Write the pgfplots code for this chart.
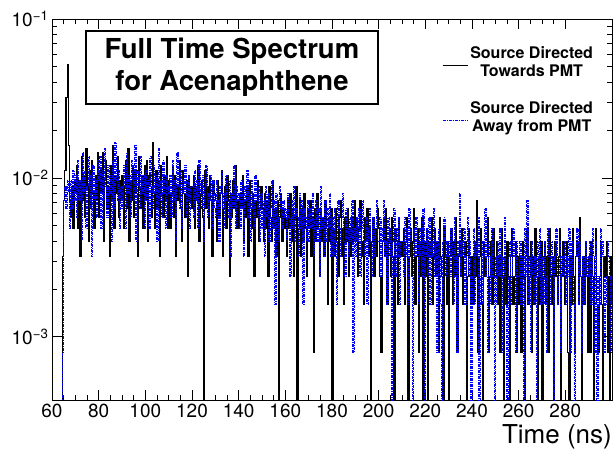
\documentclass[border=0pt]{standalone}
\usepackage{fontspec}
\setmainfont{TeX Gyre Heros}
\usepackage{pgfplots}
\usepackage{pgfplotstable}
\pgfplotsset{compat=1.18}

% time spectrum, 0.5 ns bins; 0.0001 = empty bin (below the axis)
\pgfplotstableread{
t black blue
60 0.0001 0.0001
60.5 0.0001 0.0001
61 0.0001 0.0001
61.5 0.0001 0.0001
62 0.0001 0.0001
62.5 0.0001 0.0001
63 0.0001 0.0001
63.5 0.0001 0.0001
64 0.0001 0.0001
64.5 0.0032 0.0008
65 0.0072 0.0072
65.5 0.0112 0.0088
66 0.0320 0.0064
66.5 0.0520 0.0096
67 0.0160 0.0080
67.5 0.0072 0.0048
68 0.0056 0.0096
68.5 0.0088 0.0064
69 0.0048 0.0112
69.5 0.0096 0.0072
70 0.0080 0.0104
70.5 0.0120 0.0056
71 0.0048 0.0128
71.5 0.0096 0.0072
72 0.0032 0.0096
72.5 0.0136 0.0040
73 0.0072 0.0144
73.5 0.0104 0.0080
74 0.0056 0.0112
74.5 0.0152 0.0048
75 0.0088 0.0088
75.5 0.0040 0.0136
76 0.0112 0.0064
76.5 0.0064 0.0104
77 0.0128 0.0032
77.5 0.0080 0.0120
78 0.0048 0.0072
78.5 0.0104 0.0096
79 0.0072 0.0056
79.5 0.0144 0.0128
80 0.0056 0.0096
80.5 0.0112 0.0136
81 0.0080 0.0048
81.5 0.0144 0.0112
82 0.0040 0.0072
82.5 0.0096 0.0152
83 0.0128 0.0088
83.5 0.0064 0.0056
84 0.0088 0.0120
84.5 0.0032 0.0080
85 0.0120 0.0104
85.5 0.0072 0.0040
86 0.0160 0.0128
86.5 0.0048 0.0064
87 0.0104 0.0168
87.5 0.0080 0.0096
88 0.0136 0.0072
88.5 0.0056 0.0112
89 0.0096 0.0048
89.5 0.0072 0.0088
90 0.0104 0.0064
90.5 0.0048 0.0120
91 0.0088 0.0088
91.5 0.0128 0.0048
92 0.0064 0.0144
92.5 0.0152 0.0080
93 0.0040 0.0104
93.5 0.0096 0.0056
94 0.0072 0.0128
94.5 0.0120 0.0096
95 0.0056 0.0072
95.5 0.0112 0.0160
96 0.0080 0.0040
96.5 0.0032 0.0112
97 0.0136 0.0088
97.5 0.0088 0.0064
98 0.0064 0.0136
98.5 0.0104 0.0080
99 0.0048 0.0104
99.5 0.0120 0.0048
100 0.0072 0.0112
100.5 0.0128 0.0072
101 0.0040 0.0096
101.5 0.0104 0.0048
102 0.0088 0.0136
102.5 0.0056 0.0088
103 0.0168 0.0064
103.5 0.0080 0.0120
104 0.0048 0.0080
104.5 0.0112 0.0104
105 0.0064 0.0040
105.5 0.0096 0.0152
106 0.0032 0.0072
106.5 0.0120 0.0096
107 0.0080 0.0056
107.5 0.0056 0.0128
108 0.0104 0.0080
108.5 0.0072 0.0048
109 0.0136 0.0104
109.5 0.0048 0.0088
110 0.0096 0.0080
110.5 0.0048 0.0104
111 0.0080 0.0056
111.5 0.0120 0.0128
112 0.0056 0.0072
112.5 0.0104 0.0096
113 0.0032 0.0040
113.5 0.0088 0.0144
114 0.0072 0.0088
114.5 0.0128 0.0064
115 0.0064 0.0112
115.5 0.0040 0.0048
116 0.0112 0.0096
116.5 0.0080 0.0080
117 0.0056 0.0120
117.5 0.0096 0.0056
118 0.0024 0.0072
118.5 0.0104 0.0104
119 0.0072 0.0048
119.5 0.0088 0.0088
120 0.0064 0.0088
120.5 0.0104 0.0056
121 0.0048 0.0112
121.5 0.0088 0.0072
122 0.0072 0.0096
122.5 0.0120 0.0048
123 0.0040 0.0128
123.5 0.0080 0.0080
124 0.0096 0.0064
124.5 0.0056 0.0104
125 0.0001 0.0040
125.5 0.0112 0.0088
126 0.0064 0.0120
126.5 0.0088 0.0056
127 0.0048 0.0080
127.5 0.0104 0.0072
128 0.0072 0.0104
128.5 0.0032 0.0048
129 0.0096 0.0096
129.5 0.0080 0.0064
130 0.0072 0.0056
130.5 0.0040 0.0096
131 0.0096 0.0072
131.5 0.0056 0.0040
132 0.0080 0.0088
132.5 0.0112 0.0112
133 0.0032 0.0064
133.5 0.0064 0.0080
134 0.0088 0.0048
134.5 0.0048 0.0104
135 0.0104 0.0072
135.5 0.0072 0.0056
136 0.0024 0.0096
136.5 0.0080 0.0032
137 0.0056 0.0080
137.5 0.0096 0.0064
138 0.0064 0.0120
138.5 0.0120 0.0048
139 0.0048 0.0088
139.5 0.0072 0.0072
140 0.0048 0.0080
140.5 0.0080 0.0048
141 0.0064 0.0096
141.5 0.0104 0.0064
142 0.0040 0.0032
142.5 0.0072 0.0088
143 0.0056 0.0072
143.5 0.0088 0.0112
144 0.0032 0.0056
144.5 0.0096 0.0080
145 0.0064 0.0040
145.5 0.0048 0.0096
146 0.0080 0.0064
146.5 0.0024 0.0048
147 0.0072 0.0104
147.5 0.0056 0.0072
148 0.0096 0.0056
148.5 0.0040 0.0088
149 0.0064 0.0040
149.5 0.0088 0.0080
150 0.0064 0.0048
150.5 0.0040 0.0072
151 0.0080 0.0032
151.5 0.0048 0.0088
152 0.0072 0.0056
152.5 0.0024 0.0080
153 0.0088 0.0040
153.5 0.0056 0.0064
154 0.0040 0.0096
154.5 0.0096 0.0048
155 0.0048 0.0072
155.5 0.0064 0.0016
156 0.0032 0.0080
156.5 0.0072 0.0056
157 0.0001 0.0040
157.5 0.0056 0.0088
158 0.0080 0.0064
158.5 0.0040 0.0048
159 0.0064 0.0072
159.5 0.0048 0.0056
160 0.0056 0.0064
160.5 0.0032 0.0040
161 0.0072 0.0080
161.5 0.0048 0.0056
162 0.0080 0.0024
162.5 0.0040 0.0072
163 0.0064 0.0048
163.5 0.0024 0.0088
164 0.0056 0.0040
164.5 0.0088 0.0064
165 0.0001 0.0056
165.5 0.0048 0.0032
166 0.0072 0.0080
166.5 0.0032 0.0048
167 0.0064 0.0072
167.5 0.0040 0.0016
168 0.0080 0.0064
168.5 0.0048 0.0056
169 0.0024 0.0040
169.5 0.0064 0.0072
170 0.0048 0.0040
170.5 0.0072 0.0064
171 0.0032 0.0048
171.5 0.0056 0.0080
172 0.0008 0.0032
172.5 0.0064 0.0056
173 0.0040 0.0072
173.5 0.0080 0.0040
174 0.0048 0.0064
174.5 0.0024 0.0024
175 0.0064 0.0088
175.5 0.0040 0.0048
176 0.0056 0.0056
176.5 0.0032 0.0032
177 0.0072 0.0072
177.5 0.0048 0.0040
178 0.0016 0.0064
178.5 0.0056 0.0048
179 0.0040 0.0080
179.5 0.0064 0.0032
180 0.0001 0.0056
180.5 0.0048 0.0032
181 0.0032 0.0064
181.5 0.0064 0.0040
182 0.0040 0.0016
182.5 0.0024 0.0072
183 0.0056 0.0048
183.5 0.0072 0.0032
184 0.0032 0.0056
184.5 0.0048 0.0080
185 0.0016 0.0040
185.5 0.0056 0.0024
186 0.0040 0.0064
186.5 0.0064 0.0048
187 0.0024 0.0032
187.5 0.0048 0.0056
188 0.0032 0.0040
188.5 0.0056 0.0072
189 0.0040 0.0008
189.5 0.0072 0.0048
190 0.0040 0.0032
190.5 0.0056 0.0056
191 0.0024 0.0040
191.5 0.0048 0.0064
192 0.0072 0.0024
192.5 0.0032 0.0048
193 0.0040 0.0072
193.5 0.0016 0.0040
194 0.0056 0.0032
194.5 0.0040 0.0056
195 0.0064 0.0016
195.5 0.0032 0.0048
196 0.0048 0.0064
196.5 0.0001 0.0040
197 0.0040 0.0024
197.5 0.0056 0.0056
198 0.0024 0.0032
198.5 0.0048 0.0048
199 0.0032 0.0072
199.5 0.0064 0.0040
200 0.0048 0.0040
200.5 0.0024 0.0056
201 0.0008 0.0024
201.5 0.0040 0.0048
202 0.0056 0.0072
202.5 0.0032 0.0032
203 0.0064 0.0040
203.5 0.0016 0.0016
204 0.0040 0.0056
204.5 0.0048 0.0032
205 0.0024 0.0048
205.5 0.0056 0.0001
206 0.0032 0.0040
206.5 0.0001 0.0064
207 0.0048 0.0024
207.5 0.0040 0.0048
208 0.0016 0.0032
208.5 0.0056 0.0056
209 0.0032 0.0016
209.5 0.0040 0.0040
210 0.0032 0.0040
210.5 0.0048 0.0024
211 0.0016 0.0056
211.5 0.0040 0.0032
212 0.0056 0.0048
212.5 0.0001 0.0016
213 0.0032 0.0064
213.5 0.0048 0.0040
214 0.0024 0.0024
214.5 0.0040 0.0001
215 0.0064 0.0048
215.5 0.0016 0.0032
216 0.0032 0.0056
216.5 0.0048 0.0040
217 0.0008 0.0016
217.5 0.0040 0.0048
218 0.0024 0.0032
218.5 0.0056 0.0024
219 0.0001 0.0064
219.5 0.0040 0.0001
220 0.0024 0.0032
220.5 0.0048 0.0048
221 0.0001 0.0024
221.5 0.0040 0.0056
222 0.0032 0.0016
222.5 0.0056 0.0040
223 0.0016 0.0032
223.5 0.0032 0.0064
224 0.0048 0.0024
224.5 0.0024 0.0040
225 0.0040 0.0008
225.5 0.0008 0.0048
226 0.0056 0.0032
226.5 0.0032 0.0016
227 0.0024 0.0001
227.5 0.0001 0.0040
228 0.0048 0.0056
228.5 0.0032 0.0024
229 0.0016 0.0040
229.5 0.0040 0.0032
230 0.0001 0.0040
230.5 0.0032 0.0024
231 0.0048 0.0048
231.5 0.0016 0.0032
232 0.0040 0.0016
232.5 0.0024 0.0056
233 0.0056 0.0032
233.5 0.0008 0.0008
234 0.0032 0.0040
234.5 0.0040 0.0080
235 0.0024 0.0024
235.5 0.0048 0.0040
236 0.0016 0.0032
236.5 0.0032 0.0048
237 0.0040 0.0016
237.5 0.0001 0.0032
238 0.0024 0.0056
238.5 0.0048 0.0024
239 0.0032 0.0040
239.5 0.0016 0.0001
240 0.0032 0.0024
240.5 0.0016 0.0048
241 0.0040 0.0016
241.5 0.0024 0.0040
242 0.0072 0.0032
242.5 0.0008 0.0056
243 0.0032 0.0001
243.5 0.0048 0.0024
244 0.0016 0.0040
244.5 0.0001 0.0016
245 0.0040 0.0032
245.5 0.0024 0.0064
246 0.0032 0.0024
246.5 0.0056 0.0008
247 0.0008 0.0040
247.5 0.0024 0.0032
248 0.0040 0.0016
248.5 0.0016 0.0048
249 0.0048 0.0024
249.5 0.0024 0.0001
250 0.0024 0.0032
250.5 0.0040 0.0016
251 0.0016 0.0040
251.5 0.0032 0.0024
252 0.0008 0.0048
252.5 0.0048 0.0008
253 0.0024 0.0032
253.5 0.0001 0.0024
254 0.0032 0.0056
254.5 0.0016 0.0016
255 0.0040 0.0001
255.5 0.0024 0.0032
256 0.0001 0.0040
256.5 0.0032 0.0016
257 0.0048 0.0024
257.5 0.0016 0.0048
258 0.0024 0.0032
258.5 0.0040 0.0008
259 0.0008 0.0040
259.5 0.0032 0.0024
260 0.0016 0.0024
260.5 0.0032 0.0040
261 0.0008 0.0016
261.5 0.0040 0.0032
262 0.0024 0.0001
262.5 0.0001 0.0048
263 0.0032 0.0024
263.5 0.0048 0.0072
264 0.0016 0.0016
264.5 0.0024 0.0032
265 0.0040 0.0008
265.5 0.0008 0.0040
266 0.0032 0.0024
266.5 0.0016 0.0016
267 0.0048 0.0032
267.5 0.0024 0.0001
268 0.0001 0.0040
268.5 0.0032 0.0024
269 0.0016 0.0048
269.5 0.0040 0.0016
270 0.0001 0.0032
270.5 0.0024 0.0016
271 0.0040 0.0040
271.5 0.0016 0.0024
272 0.0032 0.0008
272.5 0.0008 0.0048
273 0.0048 0.0032
273.5 0.0024 0.0016
274 0.0016 0.0040
274.5 0.0032 0.0024
275 0.0001 0.0001
275.5 0.0040 0.0032
276 0.0024 0.0048
276.5 0.0016 0.0016
277 0.0032 0.0024
277.5 0.0048 0.0040
278 0.0001 0.0008
278.5 0.0024 0.0032
279 0.0040 0.0024
279.5 0.0016 0.0040
280 0.0024 0.0016
280.5 0.0040 0.0032
281 0.0008 0.0024
281.5 0.0001 0.0048
282 0.0032 0.0008
282.5 0.0016 0.0040
283 0.0048 0.0024
283.5 0.0024 0.0016
284 0.0008 0.0001
284.5 0.0032 0.0032
285 0.0040 0.0048
285.5 0.0016 0.0016
286 0.0056 0.0040
286.5 0.0024 0.0024
287 0.0001 0.0008
287.5 0.0032 0.0032
288 0.0016 0.0016
288.5 0.0040 0.0040
289 0.0024 0.0024
289.5 0.0008 0.0032
290 0.0032 0.0024
290.5 0.0008 0.0040
291 0.0040 0.0016
291.5 0.0024 0.0048
292 0.0001 0.0032
292.5 0.0032 0.0008
293 0.0048 0.0040
293.5 0.0016 0.0001
294 0.0008 0.0024
294.5 0.0024 0.0016
295 0.0040 0.0048
295.5 0.0016 0.0032
296 0.0001 0.0040
296.5 0.0032 0.0008
297 0.0024 0.0024
297.5 0.0040 0.0016
298 0.0008 0.0040
298.5 0.0024 0.0032
299 0.0001 0.0024
299.5 0.0032 0.0008
300 0.0016 0.0024
}\spectrum

\begin{document}
\begin{tikzpicture}
\useasboundingbox (-52pt,-59pt) rectangle (562pt,400pt);
\begin{axis}[
  at={(0pt,0pt)}, anchor=south west,
  scale only axis,
  width=560pt, height=381pt,
  xmin=60, xmax=300,
  ymode=log, ymin=4e-4, ymax=0.1,
  xtick={60,80,...,280},
  minor x tick num=3,
  ytick={0.001,0.01,0.1},
  yticklabels={10\textsuperscript{−3},10\textsuperscript{−2},10\textsuperscript{−1}},
  tick align=inside,
  major tick length=10pt,
  minor tick length=5pt,
  axis line style={line width=0.9pt},
  every tick/.style={black, line width=0.7pt},
  tick label style={font=\fontsize{19}{22}\selectfont},
  /pgf/number format/assume math mode=true,
  /pgf/number format/1000 sep={},
  xlabel={Time (ns)},
  xlabel style={at={(axis description cs:1,0)}, anchor=north east,
    xshift=0pt, yshift=-24pt, inner sep=0pt, font=\fontsize{26}{30}\selectfont},
  legend style={draw=none, fill=none, at={(axis description cs:0.970,0.935)},
    anchor=north east, row sep=27pt, inner sep=0pt,
    font=\fontsize{16}{18}\selectfont\bfseries,
    nodes={inner sep=2pt}},
  legend cell align=center,
  legend image code/.code={\draw[#1] (0pt,-8pt) -- (25pt,-8pt);},
]
\addplot[const plot, black, line width=1.1pt] table[x=t, y=black] {\spectrum};
\addlegendentry{\begin{tabular}[c]{@{}c@{}}Source Directed\\Towards PMT\end{tabular}}
\addplot[const plot, blue, line width=1.1pt,
  dash pattern=on 3pt off 1pt on 1pt off 1pt] table[x=t, y=blue] {\spectrum};
\addlegendentry{\begin{tabular}[c]{@{}c@{}}Source Directed\\Away from PMT\end{tabular}}
\end{axis}
\node[draw, line width=1.5pt, minimum width=292pt, minimum height=73pt,
  align=center, font=\fontsize{27.5}{32}\selectfont\bfseries]
  at (180pt,332.5pt) {Full Time Spectrum\\for Acenaphthene};
\end{tikzpicture}
\end{document}
